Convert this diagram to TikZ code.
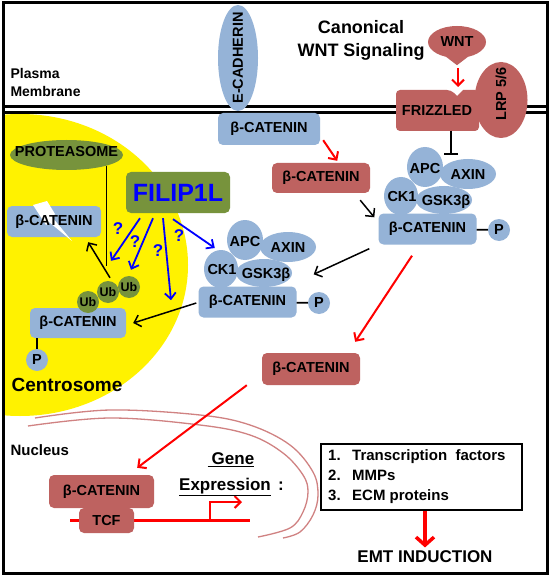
\documentclass[tikz,border=0pt]{standalone}
\usepackage{fontspec}
\setmainfont{Liberation Sans}
\usetikzlibrary{arrows.meta,calc,shapes.geometric}
\definecolor{cblue}{RGB}{149,179,215}
\definecolor{cred}{RGB}{190,98,96}
\definecolor{cgreen}{RGB}{119,147,60}
\definecolor{cpink}{RGB}{208,130,130}
\begin{document}
\begin{tikzpicture}[x=1pt,y=-1pt,
  font=\fontsize{14.5}{17}\selectfont\bfseries,
  bbox/.style={fill=cblue, rounded corners=5pt, minimum width=98pt, minimum height=31pt, inner sep=0pt},
  rbox/.style={fill=cred, rounded corners=5pt, minimum width=98pt, minimum height=32pt, inner sep=0pt},
  blob/.style={ellipse, fill=cblue, inner sep=0pt},
  pcirc/.style={circle, fill=cblue, minimum size=22pt, inner sep=0pt},
  ubc/.style={circle, fill=cgreen, minimum size=22pt, inner sep=0pt, font=\fontsize{12.5}{14}\selectfont\bfseries},
  blk/.style={line width=1.5pt, -{Straight Barb[length=6pt,width=12pt]}},
  redar/.style={red, line width=2pt, -{Straight Barb[length=6pt,width=12pt]}},
  bluar/.style={blue, line width=1.8pt, -{Straight Barb[length=6pt,width=11pt]}},
  qm/.style={text=blue, font=\fontsize{17}{19}\selectfont\bfseries},
  complex/.pic={
    \node[blob, minimum width=36pt, minimum height=40pt] (-apc) at (-2.5,-62) {};
    \node[blob, minimum width=56pt, minimum height=30pt] (-axin) at (40.5,-55) {};
    \node[blob, minimum width=34pt, minimum height=38pt] (-ck1) at (-26.5,-33) {};
    \node[blob, minimum width=56pt, minimum height=28pt] (-gsk) at (16.5,-29) {};
    \node[bbox] (-bc) at (0,0) {β-CATENIN};
    \node[pcirc] (-p) at (71.5,1) {P};
    \draw[line width=1.8pt] (-bc) -- (-p);
    \node at (-2.5,-60) {APC};
    \node at (40.5,-54) {AXIN};
    \node at (-25.5,-32) {CK1};
    \node at (18.5,-27) {GSK3β};
  }
]
\useasboundingbox (0,0) rectangle (550,577);
\fill[white] (0,0) rectangle (550,577);
% centrosome
\begin{scope}
  \clip (4.5,114.5) rectangle (545.5,571.5);
  \fill[yellow] (20,265) ellipse [x radius=168, y radius=151];
\end{scope}
% nuclear envelope
\draw[cpink, line width=1.3pt] plot[smooth, tension=0.6] coordinates {(28,426) (110,418) (200,425) (250,435) (283,453) (303,475) (308,492) (303,512) (290,528) (258,537)};
\draw[cpink, line width=1.3pt] plot[smooth, tension=0.6] coordinates {(35,418) (110,410) (200,415) (250,425) (290,445) (313,472) (318,495) (313,515) (300,532) (283,538)};
% membrane and frame
\draw[line width=3pt] (3,106.5) -- (547,106.5) (3,113) -- (547,113);
\draw[line width=3pt] (3,3) rectangle (547,573);

% labels
\node[anchor=west, align=left, font=\fontsize{14}{18}\selectfont\bfseries] at (7,82) {Plasma\\Membrane};
\node[align=center, font=\fontsize{18}{23}\selectfont\bfseries] at (361,40.5) {Canonical\\WNT Signaling};

% E-cadherin / beta-catenin at membrane
\node[blob, minimum width=40pt, minimum height=106pt] (ecad) at (238,58) {};
\node[rotate=90] at (ecad) {E-CADHERIN};
\node[bbox, minimum width=102pt, minimum height=32pt] (b1) at (269,129) {β-CATENIN};

% WNT / Frizzled / LRP
\node[ellipse, fill=cred, minimum width=58pt, minimum height=32pt, inner sep=0pt] (wnt) at (457,42) {};
\fill[cred] (wnt.-125) -- ($(wnt.south)+(0,7)$) -- (wnt.-55) -- cycle;
\node at (wnt) {WNT};
\fill[cred, rounded corners=4pt] (396,90) -- (451,90) [sharp corners] -- (457,96) -- (463,90) [rounded corners=4pt] -- (479,90) -- (479,131) -- (396,131) -- cycle;
\coordinate (notch) at (457,96);
\node[ellipse, fill=cred, minimum width=53pt, minimum height=76pt, inner sep=0pt] (lrp) at (501,100) {};
\node[rotate=90] at ($(lrp)+(0,-6)$) {LRP 5/6};
\node[minimum width=83pt, minimum height=40pt, inner sep=0pt] (fz) at (437,110.5) {FRIZZLED};
\draw[redar] ($(wnt.south)+(1,10)$) -- ($(notch)+(1,-9)$);
\draw[line width=2pt, -{Bar[width=14pt, line width=2pt]}] ($(fz.south)+(14,0)$) -- ++(0,24);

% cytoplasmic beta-catenin
\node[rbox, minimum height=30pt] (b2) at (321,178) {β-CATENIN};
\draw[redar] ($(b1.south east)+(3,-5)$) -- ($(b2.north east)+(-33,-2)$);

% destruction complexes
\pic (rc) at (427.5,229) {complex};
\pic (lc) at (247.5,302) {complex};
\draw[blk] ($(b2.south east)+(-10,7)$) -- ($(rc-bc.north west)+(-4,4)$);
\draw[blk] ($(rc-bc.south west)+(-9,4)$) -- ($(lc-bc.north east)+(17,-12)$);

\node[rbox] (b4) at (311,369) {β-CATENIN};
\draw[redar] ($(rc-bc.south)+(-15.5,11)$) -- ($(b4.north east)+(-5,-11)$);

% centrosome side
\node[ellipse, fill=cgreen, minimum width=113pt, minimum height=30pt, inner sep=0pt] (prot) at (66.5,155) {};
\node at (66.5,152) {PROTEASOME};
\node[bbox, minimum width=94pt, minimum height=31pt] (bd) at (54,221.5) {};
\fill[white] (33,205) -- (47,201) -- (55,214) -- (52,217) -- (72,241) -- (49,222) -- (46,225) -- cycle;
\node at (bd) {β-CATENIN};

\node[bbox, minimum width=96pt, minimum height=30pt] (b6) at (78,323) {β-CATENIN};
\node[pcirc] (p6) at (37,360) {P};
\draw[line width=1.8pt] (p6) -- (p6 |- b6.south);
\node[ubc] (ub1) at (88,302) {Ub};
\node[ubc] (ub2) at (108,292) {Ub};
\node[ubc] (ub3) at (129,287) {Ub};
\draw[line width=1.5pt] (prot.-15) -- ++(0,100);
\draw[blk] ($(ub2.north)+(2,-3)$) -- ($(bd.south east)+(-13,5)$);
\draw[blk] ($(lc-bc.west)+(-2,1)$) -- ($(b6.east)+(7,0)$);

\node[fill=cgreen, rounded corners=5pt, minimum width=104pt, minimum height=41pt, inner sep=0pt, text=blue, font=\fontsize{25}{28}\selectfont\bfseries] (fil) at (178,192.5) {FILIP1L};
\draw[bluar] ($(fil.south)+(-38,5)$) -- ($(ub2.north)+(3,-20)$);
\draw[bluar] ($(fil.south)+(-25,5)$) -- ($(ub3.north)+(2,-6)$);
\draw[bluar] ($(fil.south)+(-15,5)$) -- ($(fil.south)+(-7,87)$);
\draw[bluar] ($(fil.south)+(-5,6)$) -- ($(lc-apc.west)+(-12,8)$);
\node[qm] at (118,229) {?};
\node[qm] at (135,242) {?};
\node[qm] at (158,251) {?};
\node[qm] at (179,236) {?};

\node[anchor=west, font=\fontsize{19}{22}\selectfont\bfseries] at (8,385) {Centrosome};

% nucleus
\node[anchor=west, font=\fontsize{15}{18}\selectfont\bfseries] at (7,450) {Nucleus};
\coordinate (dnaL) at (70,520);
\coordinate (dnaR) at (250,520);
\draw[red, line width=3pt] (dnaL) -- (dnaR);
\coordinate (prom) at (210,520);
\draw[redar] (prom) -- ++(0,-18) -- ++(32,0);
\node[rbox, minimum width=105pt, minimum height=33pt] (bn) at (101.5,491.5) {β-CATENIN};
\node[rbox, minimum width=55pt, minimum height=25pt] (tcf) at (106.5,520.5) {TCF};
\draw[redar] ($(b4.south west)+(-15,0)$) -- ($(bn.north east)+(-17,-7)$);

\node[font=\fontsize{17}{20}\selectfont\bfseries] (gene) at (231,460) {\underline{\hspace{4pt}Gene}};
\node[font=\fontsize{17}{20}\selectfont\bfseries] (expr) at (225,487) {\underline{Expression}};
\node[font=\fontsize{17}{20}\selectfont\bfseries] at (281,486) {:};

\node[draw, line width=1.3pt, minimum width=201pt, minimum height=66pt, inner sep=0pt] (list) at (421.5,477) {};
\node[anchor=west, align=left, inner sep=0pt, font=\fontsize{15}{20}\selectfont\bfseries] at (328,477) {\makebox[24pt][l]{1.}Transcription\ \ factors\\\makebox[24pt][l]{2.}MMPs\\\makebox[24pt][l]{3.}ECM proteins};
\node[font=\fontsize{17}{20}\selectfont\bfseries] (emt) at (425,557) {EMT INDUCTION};
\draw[red, line width=3.5pt, -{Straight Barb[length=8pt,width=18pt]}] (list.south -| emt.north) -- (emt.north);
\end{tikzpicture}
\end{document}
